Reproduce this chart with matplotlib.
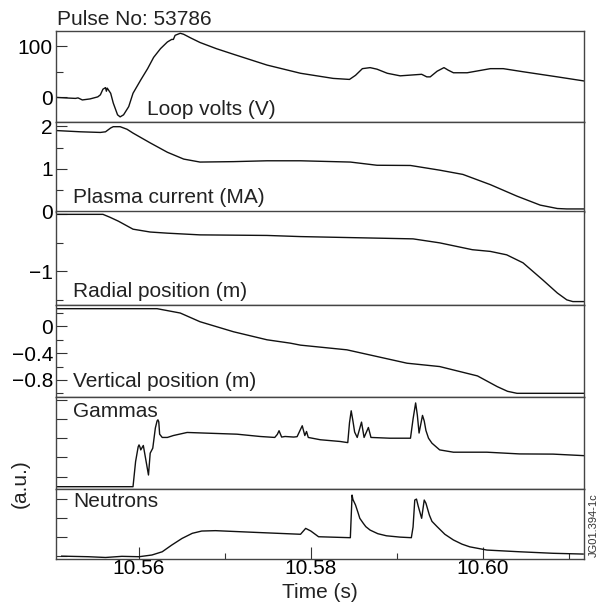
import matplotlib
matplotlib.use('Agg')
import matplotlib.pyplot as plt
from matplotlib.ticker import FixedLocator, NullFormatter, FixedFormatter

plt.rcParams['font.family'] = ['Liberation Sans', 'DejaVu Sans']
plt.rcParams['axes.unicode_minus'] = True

# --- data ---
t_loop = [10.5503, 10.5514, 10.5526, 10.5529, 10.5534, 10.5543, 10.5552, 10.5555, 10.5558,
          10.5561, 10.5562, 10.5563, 10.5567, 10.5570, 10.5575, 10.5578, 10.5582, 10.5588,
          10.5593, 10.5602, 10.5610, 10.5617, 10.5625, 10.5633, 10.5638, 10.5640, 10.5642,
          10.5648, 10.5652, 10.5660, 10.5671, 10.5690, 10.5710, 10.5749, 10.5788, 10.5826,
          10.5845, 10.5852, 10.5860, 10.5869, 10.5877, 10.5889, 10.5904, 10.5929, 10.5935,
          10.5939, 10.5947, 10.5955, 10.5960, 10.5966, 10.5982, 10.6009, 10.6024, 10.6047,
          10.6087, 10.6118]
loop_volts = [0, -1, -2, -1, -5, -3, 1, 5, 16, 19, 12, 18, 8, -11, -34, -38, -34, -18,
              8, 34, 56, 78, 95, 108, 113, 113, 121, 125, 123, 116, 107, 95, 84, 63, 47, 37,
              35, 43, 56, 58, 55, 47, 42, 45, 40, 40, 51, 58, 53, 48, 48, 56, 56, 50, 40, 32]

t_ip = [10.5503, 10.5532, 10.5555, 10.5561, 10.5567, 10.5570, 10.5578, 10.5586, 10.5593,
        10.5613, 10.5633, 10.5652, 10.5671, 10.5710, 10.5749, 10.5788, 10.5846, 10.5877,
        10.5916, 10.5950, 10.5977, 10.6009, 10.6040, 10.6067, 10.6087, 10.6098, 10.6118]
plasma_current = [1.90, 1.87, 1.855, 1.87, 1.96, 1.99, 1.99, 1.93, 1.84, 1.61, 1.39, 1.23,
                  1.16, 1.17, 1.19, 1.19, 1.16, 1.085, 1.08, 0.97, 0.87, 0.63, 0.36, 0.15,
                  0.07, 0.06, 0.06]

t_rad = [10.5503, 10.5558, 10.5566, 10.5576, 10.5593, 10.5613, 10.5633, 10.5671, 10.5749,
         10.5788, 10.5919, 10.5950, 10.5988, 10.6009, 10.6028, 10.6047, 10.6070, 10.6087,
         10.6098, 10.6105, 10.6118]
radial_pos = [0, 0, -0.05, -0.12, -0.26, -0.31, -0.33, -0.36, -0.37, -0.39, -0.43, -0.50,
              -0.62, -0.65, -0.71, -0.85, -1.15, -1.38, -1.50, -1.53, -1.53]

t_vert = [10.5503, 10.5621, 10.5648, 10.5671, 10.5710, 10.5749, 10.5776, 10.5788, 10.5842,
          10.5912, 10.5950, 10.5994, 10.6017, 10.6029, 10.6040, 10.6118]
vertical_pos = [0.265, 0.265, 0.20, 0.07, -0.08, -0.20, -0.25, -0.28, -0.35, -0.55, -0.60,
                -0.74, -0.90, -0.97, -1.0, -1.0]

t_gam = [10.5503, 10.5593, 10.5596, 10.5599, 10.5600, 10.5601, 10.5602, 10.5605, 10.5611,
         10.5613, 10.5616, 10.5619, 10.5621, 10.5622, 10.5623, 10.5624, 10.5627, 10.5633,
         10.5640, 10.5656, 10.5675, 10.5714, 10.5741, 10.5758, 10.5761, 10.5763, 10.5766,
         10.5770, 10.5780, 10.5784, 10.5790, 10.5793, 10.5795, 10.5797, 10.5811, 10.5834,
         10.5843, 10.5845, 10.5847, 10.5849, 10.5851, 10.5854, 10.5859, 10.5862, 10.5867,
         10.5870, 10.5892, 10.5916, 10.5919, 10.5922, 10.5924, 10.5926, 10.5930, 10.5932,
         10.5934, 10.5937, 10.5941, 10.5950, 10.5966, 10.6005, 10.6043, 10.6082, 10.6118]
gammas = [-0.53, -0.53, 0.78, 1.55, 1.65, 1.55, 1.39, 1.62, 0.08, 1.22, 1.48, 2.53, 2.90,
          2.96, 2.85, 2.21, 2.04, 2.04, 2.14, 2.30, 2.27, 2.21, 2.09, 2.04, 2.2, 2.39, 2.06,
          2.09, 2.06, 2.08, 2.65, 2.14, 2.35, 2.04, 1.92, 1.83, 1.77, 2.8, 3.43, 2.9, 2.32,
          2.04, 2.84, 2.04, 2.56, 2.04, 2.0, 2.0, 3.0, 3.84, 3.2, 2.27, 3.19, 2.9, 2.4, 2.0,
          1.74, 1.39, 1.27, 1.27, 1.18, 1.17, 1.09]

t_neu = [10.5510, 10.5541, 10.5561, 10.5580, 10.5600, 10.5615, 10.5627, 10.5638, 10.5650,
         10.5662, 10.5673, 10.5689, 10.5735, 10.5788, 10.5794, 10.5800, 10.5809, 10.5846,
         10.5848, 10.5849, 10.5852, 10.5855, 10.5857, 10.5861, 10.5864, 10.5869, 10.5878,
         10.5888, 10.5904, 10.5917, 10.5919, 10.5921, 10.5923, 10.5925, 10.5929, 10.5932,
         10.5934, 10.5938, 10.5941, 10.5947, 10.5956, 10.5966, 10.5976, 10.5985, 10.6005,
         10.6043, 10.6082, 10.6117]
neutrons = [-0.03, -0.06, -0.1, -0.04, -0.06, 0.03, 0.2, 0.55, 0.9, 1.17, 1.29, 1.31, 1.22,
            1.12, 1.43, 1.29, 0.99, 0.94, 3.18, 2.95, 2.66, 2.25, 1.96, 1.70, 1.52, 1.34,
            1.15, 1.04, 0.97, 0.94, 1.5, 2.92, 2.97, 2.6, 1.96, 2.92, 2.75, 2.13, 1.8, 1.52,
            1.12, 0.82, 0.60, 0.46, 0.29, 0.20, 0.12, 0.08]

panel_names = ['Loop volts (V)', 'Plasma current (MA)', 'Radial position (m)',
               'Vertical position (m)', 'Gammas', 'Neutrons']

# --- layout in pixels (top, bottom) ---
W, H = 598, 615
left_px, right_px = 55.7, 584
rows = [(30.7, 122), (122, 211.5), (211.5, 305), (305, 397), (397, 489), (489, 559)]

fig = plt.figure(figsize=(W / 100, H / 100), dpi=100)
axes = []
for top, bot in rows:
    ax = fig.add_axes([left_px / W, 1 - bot / H, (right_px - left_px) / W, (bot - top) / H])
    axes.append(ax)

series = [(t_loop, loop_volts), (t_ip, plasma_current), (t_rad, radial_pos),
          (t_vert, vertical_pos), (t_gam, gammas), (t_neu, neutrons)]
ylims = [(-48, 130), (0, 2.1), (-1.59, 0.05), (-1.055, 0.32), (-0.65, 4.15), (-0.18, 3.5)]

for ax, (t, v), yl in zip(axes, series, ylims):
    ax.plot(t, v, color='#111111', lw=1.0)
    ax.set_xlim(10.5503, 10.6118)
    ax.set_ylim(*yl)
    for s in ax.spines.values():
        s.set_color('#444444')
        s.set_linewidth(1.0)
    ax.tick_params(axis='both', which='both', direction='in', labelsize=15, pad=2,
                   width=0.8, color='#333333', right=False, top=False)
    ax.tick_params(axis='both', which='major', length=8)
    ax.tick_params(axis='both', which='minor', length=5)
    ax.tick_params(axis='x', which='both', bottom=False, labelbottom=False)

# y ticks per panel
axes[0].yaxis.set_major_locator(FixedLocator([0, 100]))
axes[0].yaxis.set_minor_locator(FixedLocator([50]))
axes[1].yaxis.set_major_locator(FixedLocator([0, 1, 2]))
axes[1].yaxis.set_minor_locator(FixedLocator([0.5, 1.5]))
axes[2].yaxis.set_major_locator(FixedLocator([0, -1]))
axes[2].yaxis.set_major_formatter(FixedFormatter(['', '\u22121']))
axes[2].yaxis.set_minor_locator(FixedLocator([-0.5, -1.5]))
axes[3].yaxis.set_major_locator(FixedLocator([0, -0.4, -0.8]))
axes[3].yaxis.set_major_formatter(FixedFormatter(['0', '\u22120.4', '\u22120.8']))
axes[3].yaxis.set_minor_locator(FixedLocator([0.2, -0.2, -0.6, -1.0]))
axes[4].yaxis.set_major_locator(FixedLocator([0, 1, 2, 3, 4]))
axes[4].yaxis.set_major_formatter(NullFormatter())
axes[5].yaxis.set_major_locator(FixedLocator([0, 1, 2, 3]))
axes[5].yaxis.set_major_formatter(NullFormatter())

# bottom time axis
axb = axes[5]
axb.tick_params(axis='x', which='both', bottom=True, labelbottom=True)
axb.tick_params(axis='x', which='major', length=8.5, pad=0)
axb.tick_params(axis='x', which='minor', length=4.5)
axb.xaxis.set_major_locator(FixedLocator([10.56, 10.58, 10.60]))
axb.xaxis.set_major_formatter(FixedFormatter(['10.56', '10.58', '10.60']))
axb.xaxis.set_minor_locator(FixedLocator([10.57, 10.59, 10.61]))

# panel labels
label_pos = [(146.7, 0.077), (73, 0.098), (73, 0.089), (73, 0.112), (73, 0.786), (73, 0.747)]
for ax, name, (xp, yf) in zip(axes, panel_names, label_pos):
    ax.text((xp - left_px) / (right_px - left_px), yf, name, transform=ax.transAxes,
            fontsize=15, va='baseline', ha='left', color='#222222')

fig.text(57 / W, 1 - 24.7 / H, 'Pulse No: 53786', fontsize=15, va='baseline',
         ha='left', color='#222222')
fig.text(320 / W, 1 - 592 / H, 'Time (s)', fontsize=15, va='center', ha='center',
         color='#222222')
fig.text(20 / W, 1 - 484 / H, '(a.u.)', fontsize=15, rotation=90, va='center',
         ha='center', color='#222222')
fig.text(594 / W, 1 - 525 / H, 'JG01.394-1c', fontsize=8, rotation=90, va='center',
         ha='center', color='#333333')

fig.savefig('out.png', dpi=100)
